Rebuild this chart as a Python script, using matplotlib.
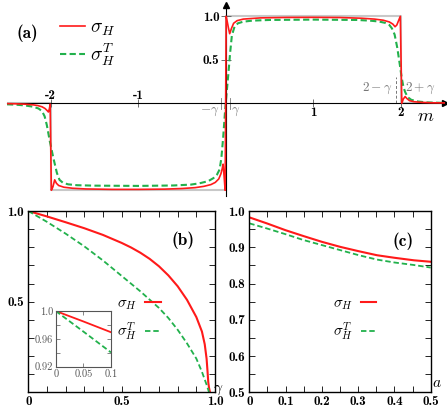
import numpy as np
import matplotlib
matplotlib.use("Agg")
import matplotlib.pyplot as plt
from matplotlib.ticker import FuncFormatter, MultipleLocator

plt.rcParams['mathtext.fontset'] = 'cm'
plt.rcParams['font.family'] = ['cmb10', 'DejaVu Serif']
plt.rcParams['axes.unicode_minus'] = False

RED = '#ff1a1a'
GREEN = '#22b14c'
GRAY = '#777777'

gamma = 0.05

# (a) sigma_H and sigma_H^T against m
red_a = [(-2.5, -0.004), (-2.4, -0.006), (-2.3, -0.01), (-2.2, -0.018), (-2.15, -0.026),
         (-2.1, -0.04), (-2.065, -0.06), (-2.04, -0.085), (-2.027, -0.1), (-2.015, -0.06),
         (-2.007, -0.01), (-1.993, -1.0), (-1.975, -0.96), (-1.955, -0.88), (-1.935, -0.92),
         (-1.91, -0.945), (-1.85, -0.965), (-1.75, -0.977), (-1.6, -0.985), (-1.3, -0.99),
         (-1.0, -0.99), (-0.7, -0.987), (-0.5, -0.98), (-0.35, -0.97), (-0.25, -0.955),
         (-0.17, -0.935), (-0.12, -0.91), (-0.08, -0.87), (-0.055, -0.81), (-0.04, -0.75),
         (-0.03, -0.7), (-0.018, -0.85), (-0.007, -1.0), (0.005, 1.0), (0.015, 0.95),
         (0.03, 0.87), (0.045, 0.8), (0.065, 0.86), (0.09, 0.92), (0.13, 0.95), (0.2, 0.968),
         (0.4, 0.982), (0.7, 0.987), (1.0, 0.988), (1.3, 0.986), (1.55, 0.978), (1.7, 0.968),
         (1.8, 0.955), (1.87, 0.935), (1.91, 0.91), (1.935, 0.88), (1.955, 0.9), (1.975, 0.95),
         (1.995, 1.0), (2.012, 0.0), (2.03, 0.05), (2.05, 0.077), (2.07, 0.055), (2.1, 0.03),
         (2.15, 0.018), (2.25, 0.01), (2.35, 0.006), (2.5, 0.004)]
green_a = [(-2.5, -0.012), (-2.4, -0.016), (-2.3, -0.024), (-2.2, -0.04), (-2.14, -0.06),
           (-2.1, -0.09), (-2.07, -0.15), (-2.045, -0.25), (-2.01, -0.44), (-1.97, -0.63),
           (-1.93, -0.8), (-1.9, -0.88), (-1.86, -0.915), (-1.8, -0.932), (-1.7, -0.942),
           (-1.5, -0.947), (-1.0, -0.95), (-0.6, -0.945), (-0.4, -0.935), (-0.3, -0.92),
           (-0.2, -0.895), (-0.14, -0.86), (-0.1, -0.82), (-0.07, -0.76), (-0.05, -0.63),
           (-0.03, -0.4), (-0.01, -0.12), (0.01, 0.12), (0.03, 0.34), (0.05, 0.58),
           (0.07, 0.78), (0.1, 0.88), (0.14, 0.92), (0.2, 0.938), (0.3, 0.95), (0.5, 0.958),
           (1.0, 0.962), (1.5, 0.958), (1.65, 0.95), (1.75, 0.94), (1.82, 0.925), (1.87, 0.9),
           (1.9, 0.86), (1.93, 0.79), (1.96, 0.64), (1.99, 0.44), (2.01, 0.3), (2.03, 0.19),
           (2.05, 0.13), (2.08, 0.07), (2.12, 0.04), (2.2, 0.02), (2.3, 0.01), (2.5, 0.004)]
step_m = [-2.5, -2, -2, 0, 0, 2, 2, 2.5]
step_s = [0, 0, -1, -1, 1, 1, 0, 0]

# (b) against gamma
red_b_g = [0, 0.1, 0.2, 0.3, 0.4, 0.5, 0.55, 0.6, 0.65, 0.7, 0.75, 0.8, 0.85, 0.9, 0.93,
           0.945, 0.955, 0.96, 0.964, 0.968, 0.973]
red_b = [1.0, 0.97, 0.938, 0.905, 0.868, 0.824, 0.799, 0.77, 0.736, 0.695, 0.645, 0.585,
         0.51, 0.415, 0.335, 0.265, 0.185, 0.115, 0.055, 0.025, 0.0]
green_b_g = [0, 0.1, 0.2, 0.3, 0.4, 0.5, 0.6, 0.7, 0.75, 0.8, 0.85, 0.9, 0.93, 0.955, 0.968]
green_b = [1.0, 0.94, 0.875, 0.805, 0.727, 0.642, 0.557, 0.465, 0.41, 0.345, 0.27, 0.186,
           0.113, 0.042, 0.0]
inset_g = [0, 0.05, 0.1]
inset_red = [1.0, 0.985, 0.9695]
inset_green = [1.0, 0.9705, 0.9405]

# (c) against a
c_a = [0, 0.048, 0.1, 0.149, 0.2, 0.251, 0.302, 0.352, 0.4, 0.454, 0.5]
red_c = [0.9825, 0.966, 0.947, 0.931, 0.915, 0.901, 0.889, 0.878, 0.871, 0.864, 0.86]
green_c = [0.966, 0.952, 0.936, 0.92, 0.906, 0.892, 0.878, 0.866, 0.858, 0.851, 0.844]

labels = [r'$\sigma_H$', r'$\sigma_H^T$']

fig = plt.figure(figsize=(4.47, 4.09), dpi=100)

# ---------------- (a)
ax = fig.add_axes([7 / 447, 1 - 196 / 409, 437.5 / 447, 191 / 409])
ax.set_xlim(-2.5, 2.5)
ax.set_ylim(-1.066, 1.13)
ax.patch.set_alpha(0)
for s in ['top', 'right']:
    ax.spines[s].set_visible(False)
ax.spines['left'].set_position(('data', 0))
ax.spines['bottom'].set_position(('data', 0))
ax.plot(1, 0, '>k', ms=5, transform=ax.get_yaxis_transform(), clip_on=False)
ax.plot(0, 1, '^k', ms=5, transform=ax.get_xaxis_transform(), clip_on=False)

ax.plot(step_m, step_s, color='#c8c8c8', lw=1.5, zorder=1)
rm, rs = zip(*red_a)
gm, gs = zip(*green_a)
l1, = ax.plot(rm, rs, color=RED, lw=1.2, zorder=3)
l2, = ax.plot(gm, gs, color=GREEN, lw=1.5, dashes=(3, 1.6), zorder=2)

xt = [-2, -1, 1, 2]
ax.set_xticks(xt)
ax.set_xticklabels([])
ax.tick_params(axis='x', direction='inout', length=6, width=0.6, color='#555555')
for v in xt:
    if v < 0:
        ax.text(v, 0.015, str(v), ha='center', va='bottom', fontsize=9.5)
    else:
        ax.text(v, -0.04, str(v), ha='center', va='top', fontsize=9.5)
ax.set_yticks([0.5, 1.0])
ax.set_yticklabels(['0.5', '1.0'], fontsize=9.5)
ax.tick_params(axis='y', direction='inout', length=7, width=0.6, color='#555555', pad=1)

for x0 in [-gamma, gamma]:
    ax.plot([x0, x0], [-0.06, 0.06], color=GRAY, lw=0.6, zorder=1)
ax.plot([2 - gamma, 2 - gamma], [0, 0.3], color=GRAY, lw=0.7, ls=(0, (3, 2)), zorder=1)
ax.text(-gamma - 0.02, -0.03, r'$-\gamma$', color=GRAY, fontsize=9.5, ha='right', va='top')
ax.text(gamma + 0.01, -0.03, r'$\gamma$', color=GRAY, fontsize=9.5, ha='left', va='top')
ax.text(2 - gamma - 0.04, 0.17, r'$2-\gamma$', color=GRAY, fontsize=9.5, ha='right', va='center')
ax.text(2 + 0.05, 0.17, r'$2+\gamma$', color=GRAY, fontsize=9.5, ha='left', va='center')
ax.text(2.28, -0.15, r'$m$', fontsize=13, ha='center', va='center')
ax.text(0.022, 0.85, '(a)', transform=ax.transAxes, fontsize=12.5, va='center')
ax.legend([l1, l2], labels, loc='upper left',
          bbox_to_anchor=(0.122, 0.93), frameon=False, fontsize=14, handlelength=1.25,
          handletextpad=0.25, labelspacing=0.2, borderpad=0, borderaxespad=0)


def style_box(axis):
    axis.tick_params(which='both', direction='in', top=True, right=True,
                     length=4, width=0.6, labelsize=9.5, pad=3)
    for s in axis.spines.values():
        s.set_linewidth(1.0)


# ---------------- (b)
bx = fig.add_axes([28.3 / 447, 1 - 392.3 / 409, 186.7 / 447, 181.3 / 409])
b1, = bx.plot(red_b_g, red_b, color=RED, lw=1.5)
b2, = bx.plot(green_b_g, green_b, color=GREEN, lw=1.3, dashes=(3, 1.6))
bx.set_xlim(0, 1.0)
bx.set_ylim(0, 1.0)
bx.xaxis.set_major_locator(MultipleLocator(0.1))
bx.yaxis.set_major_locator(MultipleLocator(0.1))
bx.xaxis.set_major_formatter(FuncFormatter(
    lambda v, p: {0: '0', 5: '0.5', 10: '1.0'}.get(int(round(v * 10)), '')))
bx.yaxis.set_major_formatter(FuncFormatter(
    lambda v, p: {5: '0.5', 10: '1.0'}.get(int(round(v * 10)), '')))
style_box(bx)
bx.text(0.829, 0.84, '(b)', transform=bx.transAxes, fontsize=12.5, ha='center', va='center')
bx.text(1.018, 0.015, r'$\gamma$', transform=bx.transAxes, fontsize=11, ha='center', va='center')
bx.legend([b1, b2], labels, loc='upper left', markerfirst=False,
          bbox_to_anchor=(0.475, 0.53), frameon=False, fontsize=11, handlelength=1.05,
          handletextpad=0.5, labelspacing=0.6, borderpad=0, borderaxespad=0)

ins = fig.add_axes([55.7 / 447, 1 - 366.7 / 409, 55.3 / 447, 55.7 / 409])
ins.plot(inset_g, inset_red, color=RED, lw=1.3)
ins.plot(inset_g, inset_green, color=GREEN, lw=1.3, dashes=(3, 1.6))
ins.set_xlim(0, 0.1)
ins.set_ylim(0.92, 1.0)
ins.set_xticks([0, 0.05, 0.1])
ins.set_xticklabels(['0', '0.05', '0.1'])
ins.set_yticks([0.92, 0.96, 1.0])
ins.set_yticklabels(['0.92', '0.96', '1.0'])
ins.set_yticks([0.94, 0.98], minor=True)
ins.tick_params(which='both', direction='in', top=True, right=True, length=3, width=0.5,
                labelsize=7.5, labelcolor='#555555', color='#555555', pad=2)
for lab in ins.get_xticklabels() + ins.get_yticklabels():
    lab.set_family(['cmr10'])
for s in ins.spines.values():
    s.set_color('#555555')
    s.set_linewidth(0.8)

# ---------------- (c)
cx = fig.add_axes([249.3 / 447, 1 - 392.3 / 409, 181.4 / 447, 181.3 / 409])
c1, = cx.plot(c_a, red_c, color=RED, lw=1.5)
c2, = cx.plot(c_a, green_c, color=GREEN, lw=1.3, dashes=(3, 1.6))
cx.set_xlim(0, 0.5)
cx.set_ylim(0.5, 1.0)
cx.xaxis.set_major_locator(MultipleLocator(0.1))
cx.xaxis.set_minor_locator(MultipleLocator(0.05))
cx.yaxis.set_major_locator(MultipleLocator(0.1))
cx.yaxis.set_minor_locator(MultipleLocator(0.05))
cx.xaxis.set_major_formatter(FuncFormatter(lambda v, p: '0' if abs(v) < 1e-9 else '%.1f' % v))
cx.yaxis.set_major_formatter(FuncFormatter(lambda v, p: '%.1f' % v))
style_box(cx)
cx.text(0.847, 0.834, '(c)', transform=cx.transAxes, fontsize=12.5, ha='center', va='center')
cx.text(1.035, 0.05, r'$a$', transform=cx.transAxes, fontsize=11, ha='center', va='center')
cx.legend([c1, c2], labels, loc='upper left', markerfirst=False,
          bbox_to_anchor=(0.46, 0.53), frameon=False, fontsize=11, handlelength=1.0,
          handletextpad=0.5, labelspacing=0.6, borderpad=0, borderaxespad=0)

fig.savefig('out.png', dpi=100)
